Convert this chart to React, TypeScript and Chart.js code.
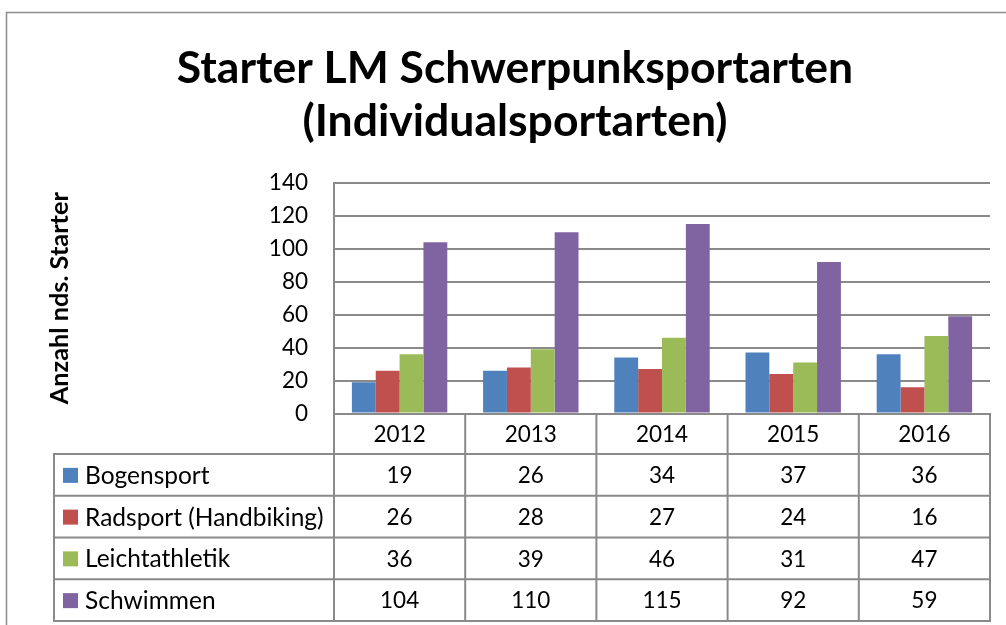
import React, { useEffect, useRef } from "react";
import { Chart, registerables } from "chart.js";

Chart.register(...registerables);

// ---- data ----
const YEARS = ["2012", "2013", "2014", "2015", "2016"];
const SERIES_NAMES = ["Bogensport", "Radsport (Handbiking)", "Leichtathletik", "Schwimmen"];
const BOGENSPORT = [19, 26, 34, 37, 36];
const RADSPORT = [26, 28, 27, 24, 16];
const LEICHTATHLETIK = [36, 39, 46, 31, 47];
const SCHWIMMEN = [104, 110, 115, 92, 59];
const SERIES_VALUES = [BOGENSPORT, RADSPORT, LEICHTATHLETIK, SCHWIMMEN];
const SERIES_COLORS = ["#4F81BD", "#C0504D", "#9BBB59", "#8064A2"];
const Y_MIN = 0;
const Y_MAX = 140;
const Y_STEP = 20;
const TITLE_LINES = ["Starter LM Schwerpunksportarten", "(Individualsportarten)"];
const Y_TITLE = "Anzahl nds. Starter";

// ---- layout / style ----
const W = 1006;
const H = 625;
const FONT = "Lato, 'Open Sans', sans-serif";
const LINE_COLOR = "#8a8a8a";
const HEADER_H = 40.5;
const ROW_H = 41.75;
const TABLE_LEFT = 54;
const PAD_LEFT = 40;
const PLOT_LEFT = 334;
const NUM_SIZE = 22.5;
const LABEL_SIZE = 24.5;
const Y_TITLE_SIZE = 25.3;

const tablePlugin = {
  id: "dataTable",
  beforeDraw(chart: any) {
    const { ctx } = chart;
    ctx.save();
    ctx.fillStyle = "#ffffff";
    ctx.fillRect(0, 0, W, H);
    ctx.strokeStyle = "#8c8c8c";
    ctx.lineWidth = 1.5;
    ctx.strokeRect(6.5, 12.5, W + 20, H + 20);
    ctx.restore();
  },
  afterDraw(chart: any) {
    const { ctx, chartArea } = chart;
    const x = chart.scales.x;
    const labels: string[] = chart.data.labels;
    const n = labels.length;
    const colW = (x.right - x.left) / n;
    const top = chartArea.bottom;
    const headerBottom = top + HEADER_H;
    const rows = chart.data.datasets.length;
    const tableBottom = headerBottom + ROW_H * rows;
    ctx.save();
    ctx.strokeStyle = LINE_COLOR;
    ctx.lineWidth = 2;
    ctx.beginPath();
    for (let i = 0; i <= n; i++) {
      const xi = x.left + i * colW;
      ctx.moveTo(xi, top);
      ctx.lineTo(xi, tableBottom);
    }
    ctx.moveTo(TABLE_LEFT, headerBottom);
    ctx.lineTo(TABLE_LEFT, tableBottom);
    for (let r = 0; r <= rows; r++) {
      const y = headerBottom + r * ROW_H;
      ctx.moveTo(TABLE_LEFT - 1, y);
      ctx.lineTo(x.right + 1, y);
    }
    ctx.stroke();

    ctx.fillStyle = "#000000";
    ctx.font = `${NUM_SIZE}px ${FONT}`;
    ctx.textBaseline = "middle";
    ctx.textAlign = "center";
    for (let i = 0; i < n; i++) {
      const cx = x.getPixelForValue(i);
      ctx.fillText(labels[i], cx, top + HEADER_H / 2 + 1);
    }
    chart.data.datasets.forEach((ds: any, r: number) => {
      const cy = headerBottom + r * ROW_H + ROW_H / 2 + 1;
      ctx.fillStyle = ds.backgroundColor;
      ctx.fillRect(TABLE_LEFT + 9, cy - 8, 15, 15);
      ctx.fillStyle = "#000000";
      ctx.textAlign = "left";
      ctx.font = `${LABEL_SIZE}px ${FONT}`;
      ctx.fillText(ds.label, TABLE_LEFT + 31, cy);
      ctx.textAlign = "center";
      ctx.font = `${NUM_SIZE}px ${FONT}`;
      ds.data.forEach((v: number, i: number) => {
        ctx.fillText(String(v), x.getPixelForValue(i), cy);
      });
    });
    ctx.restore();
  },
};

export default function App() {
  const ref = useRef<HTMLCanvasElement | null>(null);
  useEffect(() => {
    if (!ref.current) return;
    Chart.defaults.font.family = FONT;
    const chart = new Chart(ref.current, {
      type: "bar",
      data: {
        labels: YEARS,
        datasets: SERIES_NAMES.map((name, i) => ({
          label: name,
          data: SERIES_VALUES[i],
          backgroundColor: SERIES_COLORS[i],
          borderWidth: 0,
          categoryPercentage: 4 / 5.5,
          barPercentage: 1,
        })),
      },
      options: {
        responsive: false,
        animation: false,
        devicePixelRatio: 1,
        layout: { padding: { left: PAD_LEFT, right: 16, top: 12, bottom: 4 } },
        plugins: {
          legend: { display: false },
          tooltip: { enabled: false },
          title: {
            display: true,
            text: TITLE_LINES,
            color: "#000000",
            font: { family: FONT, size: 44.5, weight: "bold", lineHeight: 1.19 },
            padding: { top: 30.5, bottom: 34.5 },
          },
        },
        scales: {
          x: {
            grid: { display: false },
            border: { display: true, color: LINE_COLOR, width: 2 },
            ticks: { display: false },
            afterFit(scale: any) {
              scale.height = HEADER_H + ROW_H * SERIES_NAMES.length;
            },
          },
          y: {
            min: Y_MIN,
            max: Y_MAX,
            ticks: {
              stepSize: Y_STEP,
              color: "#000000",
              padding: 26,
              font: { family: FONT, size: NUM_SIZE },
            },
            grid: { color: LINE_COLOR, lineWidth: 2, drawTicks: false },
            border: { display: true, color: LINE_COLOR, width: 2 },
            title: {
              display: true,
              text: Y_TITLE,
              color: "#000000",
              font: { family: FONT, size: Y_TITLE_SIZE, weight: "bold", lineHeight: 1.2 },
              padding: { top: 60 - PAD_LEFT - (Y_TITLE_SIZE * 1.2) / 2, bottom: 0 },
            },
            afterFit(scale: any) {
              scale.width = PLOT_LEFT - PAD_LEFT;
            },
          },
        },
      },
      plugins: [tablePlugin],
    });
    return () => chart.destroy();
  }, []);
  return (
    <div style={{ position: "absolute", left: 0, top: 0, width: W, height: H, overflow: "hidden" }}>
      <canvas ref={ref} width={W} height={H} style={{ display: "block" }} />
    </div>
  );
}
